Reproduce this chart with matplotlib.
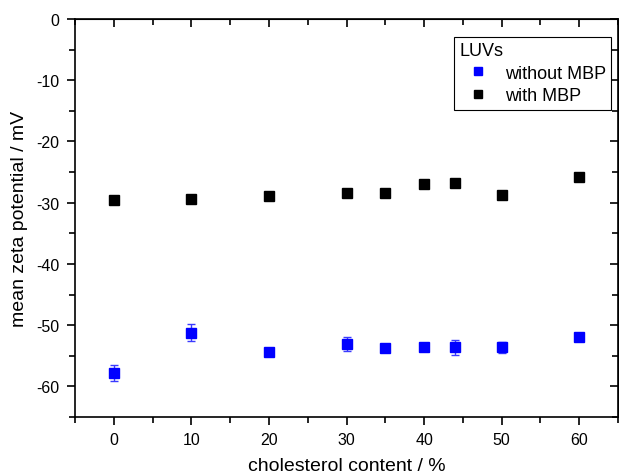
import matplotlib
matplotlib.use("Agg")
from matplotlib import pyplot as plt
from matplotlib.ticker import MultipleLocator
from matplotlib.lines import Line2D

plt.rcParams['font.family'] = ['Liberation Sans', 'DejaVu Sans']
plt.rcParams['axes.unicode_minus'] = False

# cholesterol content (%) and mean zeta potential (mV)
chol = [0, 10, 20, 30, 35, 40, 44, 50, 60]
zeta_without = [-57.8, -51.25, -54.45, -53.1, -53.75, -53.5, -53.6, -53.6, -51.9]
err_without = [1.3, 1.4, 0.4, 1.1, 0.4, 0.4, 1.2, 0.9, 0.4]
zeta_with = [-29.6, -29.35, -28.97, -28.37, -28.37, -27.0, -26.8, -28.7, -25.8]
err_with = [0.3, 0.3, 0.3, 0.3, 0.3, 0.3, 0.3, 0.3, 0.5]

fig = plt.figure(figsize=(6.19, 4.77), dpi=100)
ax = fig.add_axes([75/619, 1 - 418/477, 543/619, 398/477])

ax.errorbar(chol, zeta_without, yerr=err_without, fmt='s', color='#0000ff',
            ms=7.5, capsize=3, elinewidth=1, capthick=1, ecolor='#3a3aff')
ax.errorbar(chol, zeta_with, yerr=err_with, fmt='s', color='black',
            ms=7.5, capsize=3, elinewidth=1, capthick=1)

ax.set_xlim(-5, 65)
ax.set_ylim(-65, 0)
ax.set_xticks([0, 10, 20, 30, 40, 50, 60])
ax.xaxis.set_minor_locator(MultipleLocator(5))
ax.yaxis.set_major_locator(MultipleLocator(10))
ax.yaxis.set_minor_locator(MultipleLocator(5))

for s in ax.spines.values():
    s.set_linewidth(1.2)
ax.tick_params(which='both', direction='out', width=1.2, labelsize=11.5)
ax.tick_params(which='major', length=6, pad=5)
ax.tick_params(which='minor', length=4)

# mirrored ticks on top and right, pointing inward
axt = ax.secondary_xaxis('top')
axt.set_xticks([0, 10, 20, 30, 40, 50, 60])
axt.xaxis.set_minor_locator(MultipleLocator(5))
axt.tick_params(which='both', direction='in', width=1.2, labeltop=False)
axt.tick_params(which='major', length=6)
axt.tick_params(which='minor', length=4)
axr = ax.secondary_yaxis('right')
axr.yaxis.set_major_locator(MultipleLocator(10))
axr.yaxis.set_minor_locator(MultipleLocator(5))
axr.tick_params(which='both', direction='in', width=1.2, labelright=False)
axr.tick_params(which='major', length=6)
axr.tick_params(which='minor', length=4)

ax.set_xlabel('cholesterol content / %', fontsize=14, labelpad=7)
ax.set_ylabel('mean zeta potential / mV', fontsize=14, labelpad=6)

handles = [Line2D([], [], ls='none', marker='s', ms=6, color='#0000ff'),
           Line2D([], [], ls='none', marker='s', ms=6, color='black')]
leg = ax.legend(handles, ['without MBP', 'with MBP'], title='LUVs',
                loc='upper right', bbox_to_anchor=(0.988, 0.955),
                fontsize=13, title_fontsize=13, fancybox=False, framealpha=1,
                edgecolor='black', handletextpad=0.5, borderpad=0.3,
                labelspacing=0.3, handlelength=2.0, borderaxespad=0)
leg._legend_box.align = 'left'
leg.get_frame().set_linewidth(0.8)

fig.savefig('out.png', dpi=100)
